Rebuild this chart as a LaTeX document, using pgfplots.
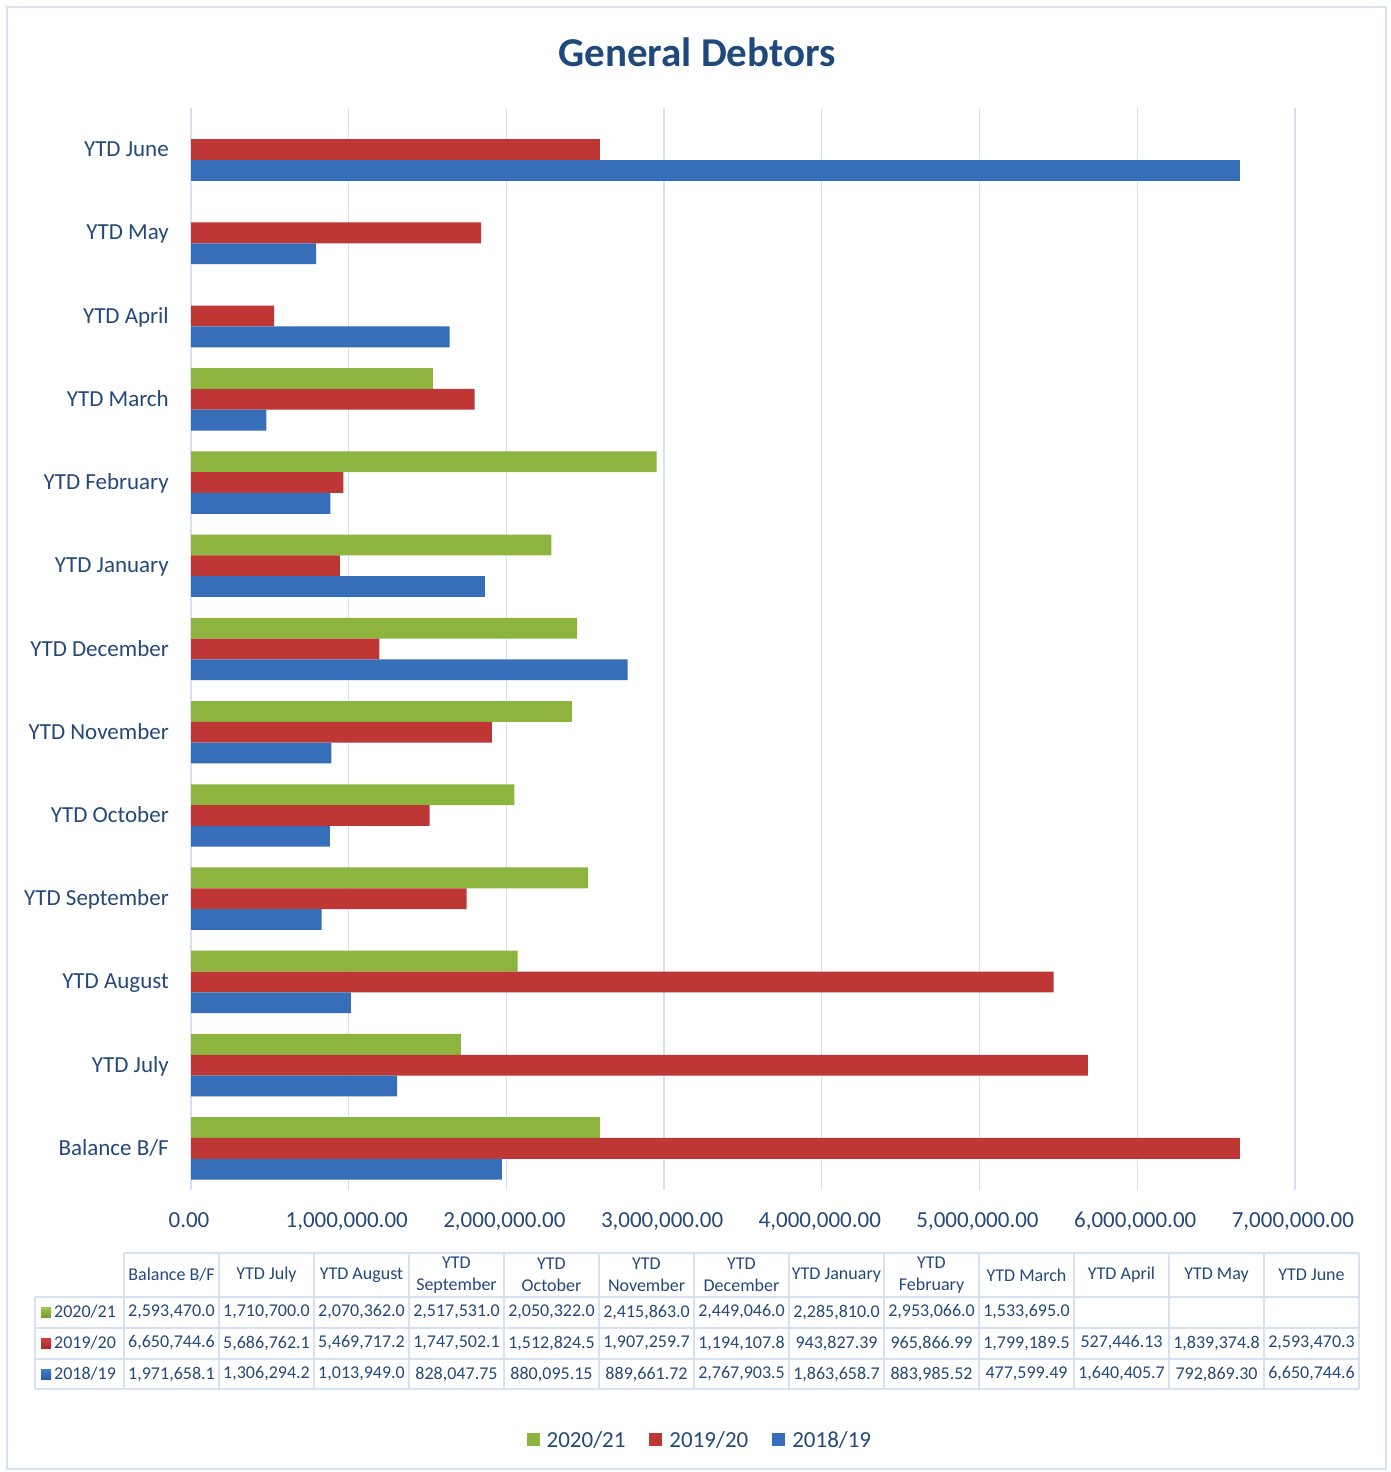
\documentclass[border=0pt]{standalone}
\usepackage{pgfplots}
\usepackage{pgfplotstable}
\pgfplotsset{compat=1.18}
\usepackage{fontspec}
\setmainfont{Carlito}
\definecolor{txt}{RGB}{37,72,122}
\definecolor{titlec}{RGB}{31,73,125}
\definecolor{gridc}{RGB}{214,226,242}
\definecolor{borderc}{RGB}{214,226,244}
\definecolor{gtop}{RGB}{158,199,76}
\definecolor{gbot}{RGB}{118,153,50}
\definecolor{gmid}{RGB}{140,180,62}
\definecolor{rtop}{RGB}{206,66,62}
\definecolor{rbot}{RGB}{163,44,44}
\definecolor{rmid}{RGB}{190,55,52}
\definecolor{btop}{RGB}{62,127,204}
\definecolor{bbot}{RGB}{44,90,160}
\definecolor{bmid}{RGB}{54,110,185}

\pgfplotstableread{
y green red blue
0 2593470.0 6650744.6 1971658.1
1 1710700.0 5686762.1 1306294.2
2 2070362.0 5469717.2 1013949.0
3 2517531.0 1747502.1 828047.75
4 2050322.0 1512824.5 880095.15
5 2415863.0 1907259.7 889661.72
6 2449046.0 1194107.8 2767903.5
7 2285810.0 943827.39 1863658.7
8 2953066.0 965866.99 883985.52
9 1533695.0 1799189.5 477599.49
10 nan 527446.13 1640405.7
11 nan 1839374.8 792869.30
12 nan 2593470.3 6650744.6
}\datatable

\begin{document}
\begin{tikzpicture}[x=1pt,y=1pt]
\path (0,0) rectangle (1391,-1472);
\draw[borderc, line width=2pt] (7,-7) rectangle (1386,-1469);
\node[font=\fontsize{41}{48}\selectfont\bfseries, text=titlec] at (697,-52) {General Debtors};

\begin{axis}[
  at={(191pt,-1190pt)}, anchor=south west,
  scale only axis, width=1104pt, height=1082pt,
  xmin=0, xmax=7000000, ymin=-0.5, ymax=12.5,
  xbar, bar width=0.25,
  ytick={0,...,12},
  yticklabels={Balance B/F, YTD July, YTD August, YTD September, YTD October, YTD November, YTD December, YTD January, YTD February, YTD March, YTD April, YTD May, YTD June},
  xtick={0,1000000,2000000,3000000,4000000,5000000,6000000,7000000},
  scaled x ticks=false,
  xmajorgrids, grid style={gridc, line width=1.3pt},
  axis line style={draw=none},
  major tick length=0pt,
  tick label style={font=\fontsize{23}{27}\selectfont, text=txt, inner sep=0pt},
  yticklabel style={anchor=base east, xshift=-22pt, yshift=-7pt},
  xticklabel style={anchor=base, xshift=-2pt, yshift=-37pt, /pgf/number format/.cd, fixed, fixed zerofill, precision=2, 1000 sep={,}, assume math mode=true},
  legend style={at={(0.461,-0.231)}, anchor=center, draw=none, fill=none,
    legend columns=3, font=\fontsize{23}{27}\selectfont, text=txt,
    /tikz/every odd column/.append style={column sep=5pt},
    /tikz/every even column/.append style={column sep=22pt}},
  legend image code/.code={\fill[#1] (0pt,-6pt) rectangle (13pt,7pt);},
]
\addplot[draw=none, fill=gmid, bar shift=0.25] table[x=green, y=y] {\datatable};
\addplot[draw=none, fill=rmid, bar shift=0] table[x=red, y=y] {\datatable};
\addplot[draw=none, fill=bmid, bar shift=-0.25] table[x=blue, y=y] {\datatable};
\legend{2020/21, 2019/20, 2018/19}
\end{axis}

% data table
\begin{scope}[gridc, line width=1.5pt]
\draw (124,-1253) -- (1359,-1253);
\foreach \yy in {1297,1328,1359,1389} \draw (35,-\yy) -- (1359,-\yy);
\draw (35,-1297) -- (35,-1389);
\foreach \i in {0,...,13} \draw ({124+95*\i},-1253) -- ({124+95*\i},-1389);
\end{scope}
\foreach \h [count=\i from 0] in {Balance B/F, YTD July, YTD August, {YTD\\September}, {YTD\\October}, {YTD\\November}, {YTD\\December}, YTD January, {YTD\\February}, YTD March, YTD April, YTD May, YTD June}
  \node[align=center, font=\fontsize{18}{22}\selectfont, text=txt, inner sep=0pt] at ({124+95*\i+47.5},-1275) {\h};
\foreach \v [count=\i from 0] in {2{,}593{,}470.0, 1{,}710{,}700.0, 2{,}070{,}362.0, 2{,}517{,}531.0, 2{,}050{,}322.0, 2{,}415{,}863.0, 2{,}449{,}046.0, 2{,}285{,}810.0, 2{,}953{,}066.0, 1{,}533{,}695.0}
  \node[font=\fontsize{18}{22}\selectfont, text=txt, inner sep=0pt] at ({124+95*\i+47.5},-1312) {\v};
\foreach \v [count=\i from 0] in {6{,}650{,}744.6, 5{,}686{,}762.1, 5{,}469{,}717.2, 1{,}747{,}502.1, 1{,}512{,}824.5, 1{,}907{,}259.7, 1{,}194{,}107.8, 943{,}827.39, 965{,}866.99, 1{,}799{,}189.5, 527{,}446.13, 1{,}839{,}374.8, 2{,}593{,}470.3}
  \node[font=\fontsize{18}{22}\selectfont, text=txt, inner sep=0pt] at ({124+95*\i+47.5},-1343) {\v};
\foreach \v [count=\i from 0] in {1{,}971{,}658.1, 1{,}306{,}294.2, 1{,}013{,}949.0, 828{,}047.75, 880{,}095.15, 889{,}661.72, 2{,}767{,}903.5, 1{,}863{,}658.7, 883{,}985.52, 477{,}599.49, 1{,}640{,}405.7, 792{,}869.30, 6{,}650{,}744.6}
  \node[font=\fontsize{18}{22}\selectfont, text=txt, inner sep=0pt] at ({124+95*\i+47.5},-1374) {\v};
% row keys
\fill[top color=gtop, bottom color=gbot] (41,-1307) rectangle (51,-1317);
\fill[top color=rtop, bottom color=rbot] (41,-1338) rectangle (51,-1348);
\fill[top color=btop, bottom color=bbot] (41,-1369) rectangle (51,-1379);
\node[anchor=west, font=\fontsize{18}{22}\selectfont, text=txt, inner sep=0pt] at (54,-1312) {2020/21};
\node[anchor=west, font=\fontsize{18}{22}\selectfont, text=txt, inner sep=0pt] at (54,-1343) {2019/20};
\node[anchor=west, font=\fontsize{18}{22}\selectfont, text=txt, inner sep=0pt] at (54,-1374) {2018/19};
\end{tikzpicture}
\end{document}
